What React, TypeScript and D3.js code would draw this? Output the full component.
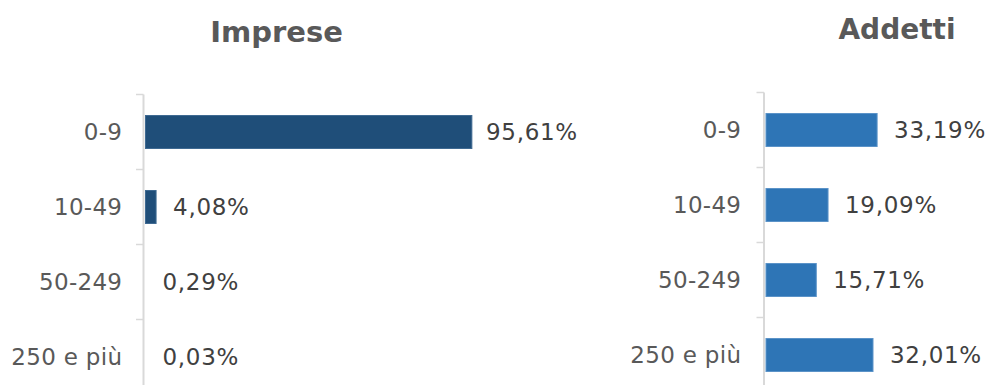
import React from "react";
import * as d3 from "d3";

const categories = ["0-9", "10-49", "50-249", "250 e più"];
const impreseValues = [95.61, 4.08, 0.29, 0.03];
const addettiValues = [33.19, 19.09, 15.71, 32.01];
const titles = ["Imprese", "Addetti"];

const W = 989;
const H = 385;
const FONT = "'DejaVu Sans', Verdana, sans-serif";

const fmt = (v: number) => v.toFixed(2).replace(".", ",") + "%";

type PanelProps = {
  title: string;
  titleSize: number;
  values: number[];
  color: string;
  stroke: string;
  zeroX: number;
  pxPerPct: number;
  axisX: number;
  labelRight: number;
  bandTop: number;
  titleX: number;
  titleY: number;
  labelMaxX: number;
};

function Panel(p: PanelProps) {
  const x = d3
    .scaleLinear()
    .domain([0, 100])
    .range([p.zeroX, p.zeroX + p.pxPerPct * 100]);
  const y = d3
    .scaleBand<string>()
    .domain(categories)
    .range([p.bandTop, p.bandTop + 300])
    .paddingInner(0.56)
    .paddingOuter(0.28);
  const step = y.step();
  const bw = y.bandwidth();
  const gap = (step - bw) / 2;
  const barStart = p.axisX + 2;
  return (
    <g>
      <text
        x={p.titleX}
        y={p.titleY}
        textAnchor="middle"
        fontFamily={FONT}
        fontWeight="bold"
        fontSize={p.titleSize}
        fill="#595959"
      >
        {p.title}
      </text>
      <line
        x1={p.axisX}
        x2={p.axisX}
        y1={p.bandTop}
        y2={H + 20}
        stroke="#d9d9d9"
        strokeWidth={2}
      />
      {categories.map((c) => (
        <line
          key={"t" + c}
          x1={p.axisX - 7.5}
          x2={p.axisX}
          y1={(y(c) as number) - gap}
          y2={(y(c) as number) - gap}
          stroke="#d9d9d9"
          strokeWidth={1.5}
        />
      ))}
      {categories.map((c, i) => {
        const end = x(p.values[i]);
        const w = Math.max(0, end - barStart);
        const yy = y(c) as number;
        const cy = yy + bw / 2;
        const lx = Math.min(Math.max(end, barStart) + 17, p.labelMaxX);
        return (
          <g key={c}>
            {w > 0 && (
              <rect
                x={barStart}
                y={yy}
                width={w}
                height={bw}
                fill={p.color}
                stroke={p.stroke}
                strokeWidth={1}
              />
            )}
            <text
              x={p.labelRight + 0.3}
              y={cy}
              dy="0.36em"
              textAnchor="end"
              fontFamily={FONT}
              fontSize={23}
              letterSpacing={0.3}
              fill="#595959"
            >
              {c}
            </text>
            <text
              x={lx}
              y={cy}
              dy="0.36em"
              fontFamily={FONT}
              fontSize={23}
              letterSpacing={0.7}
              fill="#404040"
            >
              {fmt(p.values[i])}
            </text>
          </g>
        );
      })}
    </g>
  );
}

export default function App() {
  return (
    <svg
      width={W}
      height={H}
      style={{ position: "absolute", left: 0, top: 0, background: "#fff" }}
    >
      <rect x={0} y={0} width={W} height={H} fill="#fff" />
      <Panel
        title={titles[0]}
        titleSize={29}
        values={impreseValues}
        color="#1F4E79"
        stroke="#3f6a92"
        zeroX={142}
        pxPerPct={3.45}
        axisX={143.5}
        labelRight={122}
        bandTop={94.5}
        titleX={276.5}
        titleY={42}
        labelMaxX={486}
      />
      <Panel
        title={titles[1]}
        titleSize={28}
        values={addettiValues}
        color="#2E75B6"
        stroke="#5b93c8"
        zeroX={761.6}
        pxPerPct={3.48}
        axisX={764}
        labelRight={741}
        bandTop={92.5}
        titleX={897}
        titleY={39}
        labelMaxX={990}
      />
    </svg>
  );
}
